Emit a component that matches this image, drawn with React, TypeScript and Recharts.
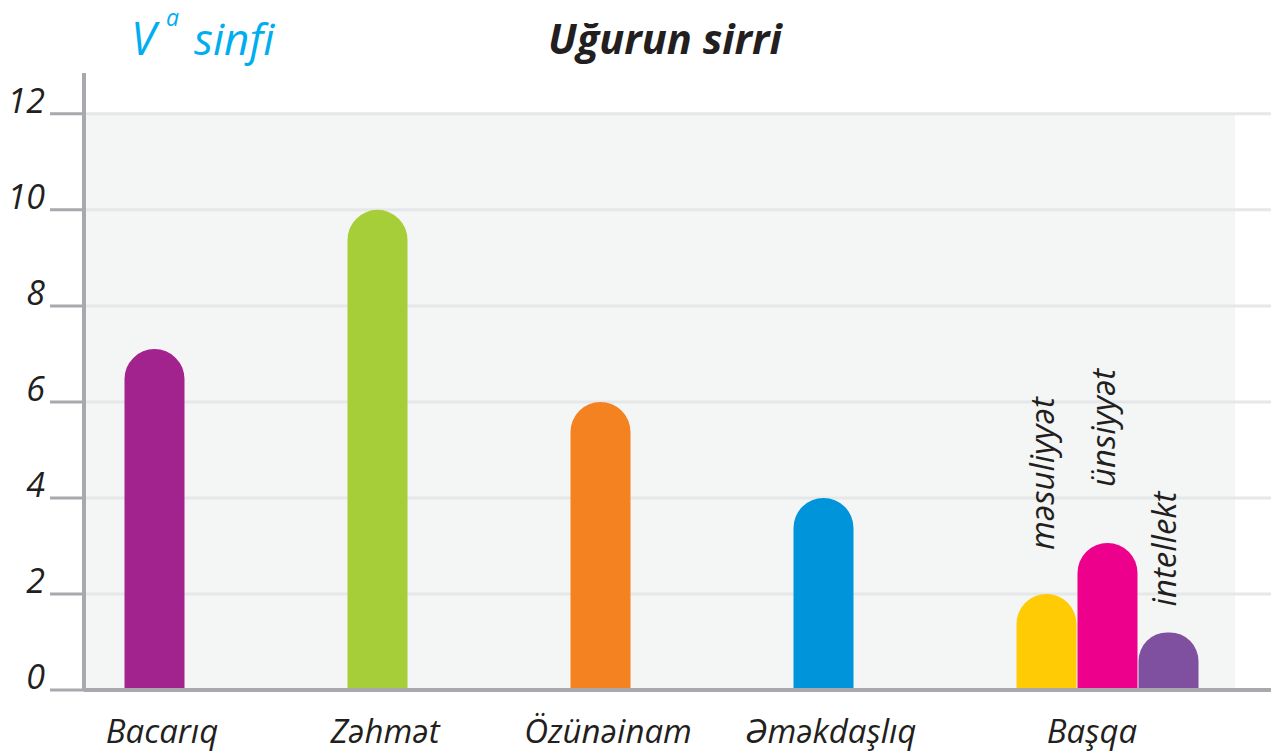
import React from 'react';
import { BarChart, Bar, XAxis, YAxis, CartesianGrid, Cell, LabelList, ReferenceArea } from 'recharts';

const categories = ['Bacarıq', 'Zəhmət', 'Özünəinam', 'Əməkdaşlıq', 'Başqa'];
const mainValues: (number | null)[] = [7.1, 10, 6, 4, null];
const mainColors = ['#a3238e', '#a6ce39', '#f58220', '#0095da', '#ffffff'];
const otherLabels = ['məsuliyyət', 'ünsiyyət', 'intellekt'];
const otherValues = [2, 3.06, 1.2];
const otherColors = ['#ffcb05', '#ec008c', '#7f509f'];
const yTicks = [0, 2, 4, 6, 8, 10, 12];

const otherLabelGaps = [44, 56, 26];

const data = categories.map((name, i) => {
  const row: Record<string, any> = { name, main: mainValues[i] };
  otherLabels.forEach((l, j) => {
    row[l] = i === categories.length - 1 ? otherValues[j] : null;
  });
  return row;
});

const FONT = '"Open Sans", "Noto Sans", sans-serif';
const TEXT = '#231f20';
const AXIS = '#a7a9ac';

const YTick = (props: any) => {
  const { x, y, payload } = props;
  return (
    <text x={x} y={y - 1} textAnchor="end" fontFamily={FONT} fontStyle="italic" fontSize={34} fill={TEXT}>
      {payload.value}
    </text>
  );
};

const XTick = (props: any) => {
  const { x, y, payload } = props;
  const shift = payload.value === categories[categories.length - 1] ? 46 : 8;
  return (
    <text x={x + shift} y={y + 53} textAnchor="middle" fontFamily={FONT} fontStyle="italic" fontSize={33} fill={TEXT}>
      {payload.value}
    </text>
  );
};

const makeRotLabel = (gap: number) => (props: any) => {
  const { x, y, width, value } = props;
  if (value == null) return null;
  const cx = x + width / 2 + 8;
  const cy = y - gap;
  return (
    <text
      x={cx}
      y={cy}
      transform={`rotate(-90, ${cx}, ${cy})`}
      textAnchor="start"
      fontFamily={FONT}
      fontStyle="italic"
      fontSize={33}
      fill={TEXT}
    >
      {otherLabels[props.seriesIndex]}
    </text>
  );
};

export default function App() {
  return (
    <div style={{ position: 'absolute', left: 0, top: 0, width: 1271, height: 755, background: '#fff' }}>
      <BarChart
        width={1271}
        height={755}
        data={data}
        margin={{ top: 73, right: 0, bottom: 0, left: 0 }}
        barGap={1}
      >
        <ReferenceArea xAxisId="bg" y1={0} y2={12} fill="#f4f5f5" fillOpacity={1} stroke="none" zIndex={-200} />
        <CartesianGrid vertical={false} stroke="#e6e7e8" strokeWidth={3} horizontalValues={yTicks} xAxisId="bg" />
        <YAxis
          width={84}
          domain={[0, 12.85]}
          ticks={yTicks}
          interval={0}
          tickSize={34}
          tickMargin={5}
          axisLine={{ stroke: AXIS, strokeWidth: 4 }}
          tickLine={{ stroke: AXIS, strokeWidth: 3 }}
          tick={<YTick />}
          allowDataOverflow
        />
        <XAxis
          xAxisId="a"
          dataKey="name"
          height={65}
          padding={{ left: -41.5, right: 113.5 }}
          tickLine={false}
          tickSize={0}
          tickMargin={0}
          axisLine={{ stroke: AXIS, strokeWidth: 4 }}
          tick={<XTick />}
          interval={0}
        />
        <XAxis xAxisId="b" dataKey="name" hide padding={{ left: 19.5, right: 52.5 }} />
        <XAxis xAxisId="bg" dataKey="name" hide padding={{ left: 0, right: 36 }} />
        <Bar xAxisId="a" dataKey="main" barSize={60} radius={[30, 30, 0, 0]} isAnimationActive={false}>
          {data.map((_, i) => (
            <Cell key={i} fill={mainColors[i]} />
          ))}
        </Bar>
        {otherLabels.map((l, j) => (
          <Bar
            key={l}
            xAxisId="b"
            dataKey={l}
            barSize={60}
            fill={otherColors[j]}
            radius={[30, 30, 0, 0]}
            isAnimationActive={false}
          >
            <LabelList
              dataKey={l}
              content={(p: any) => makeRotLabel(otherLabelGaps[j])({ ...p, seriesIndex: j })}
            />
          </Bar>
        ))}
      </BarChart>
      <svg width={1271} height={80} style={{ position: 'absolute', left: 0, top: 0, pointerEvents: 'none' }}>
        <text x={131} y={55} fontFamily={FONT} fontStyle="italic" fontSize={45} fill="#00aeef">V</text>
        <text x={166} y={26} fontFamily={FONT} fontStyle="italic" fontSize={23} fill="#00aeef">a</text>
        <text x={194} y={55} fontFamily={FONT} fontStyle="italic" fontSize={44} fill="#00aeef">sinfi</text>
        <text x={665} y={54} textAnchor="middle" fontFamily={FONT} fontStyle="italic" fontWeight="bold" fontSize={41.5} fill={TEXT}>
          Uğurun sirri
        </text>
      </svg>
    </div>
  );
}
